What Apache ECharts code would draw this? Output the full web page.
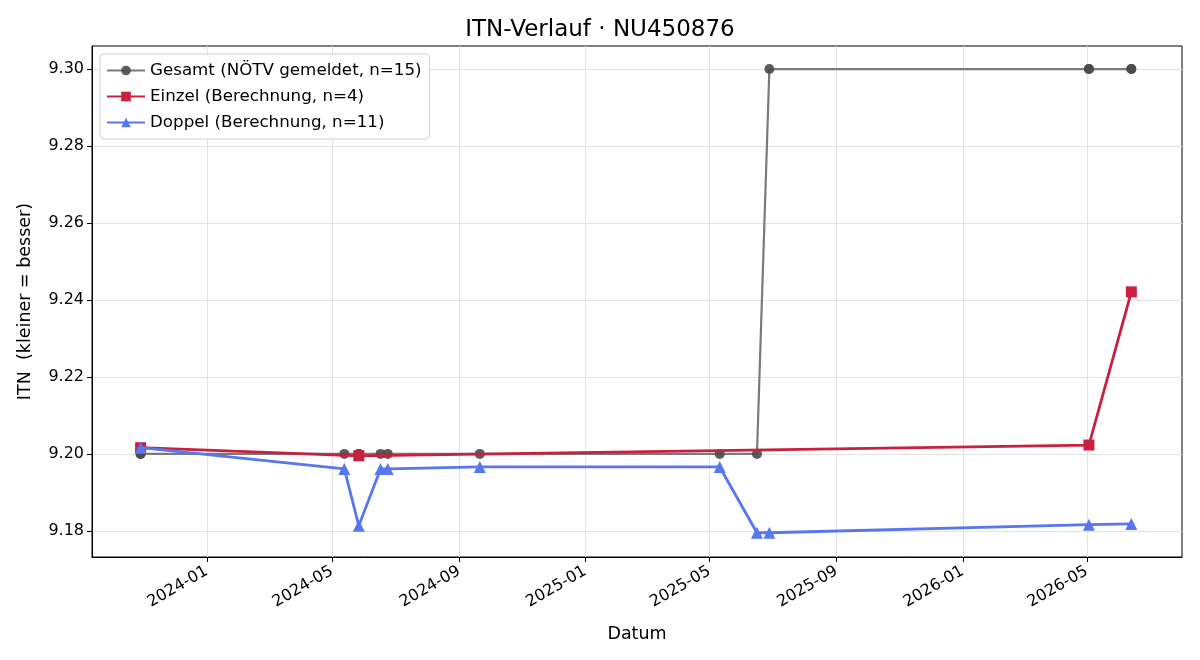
<!DOCTYPE html>
<html>
<head>
<meta charset="utf-8">
<script src="https://cdn.jsdelivr.net/npm/echarts@6/dist/echarts.min.js"></script>
<style>
  html, body { margin: 0; padding: 0; background: #fff; }
  #chart { width: 1200px; height: 660px; }
</style>
</head>
<body>
<div id="chart"></div>
<script>
// Daten
var gesamtDates = ['2023-10-29', '2023-10-29', '2024-05-13', '2024-05-27', '2024-05-27', '2024-06-17', '2024-06-24',
  '2024-09-21', '2025-05-11', '2025-06-16', '2025-06-28', '2026-05-03', '2026-05-03', '2026-06-13', '2026-06-13'];
var gesamtValues = [9.20, 9.20, 9.20, 9.20, 9.20, 9.20, 9.20, 9.20, 9.20, 9.20, 9.30, 9.30, 9.30, 9.30, 9.30];

var einzelDates = ['2023-10-29', '2024-05-27', '2026-05-03', '2026-06-13'];
var einzelValues = [9.2016, 9.1995, 9.2023, 9.2421];

var doppelDates = ['2023-10-29', '2024-05-13', '2024-05-27', '2024-06-17', '2024-06-24', '2024-09-21',
  '2025-05-11', '2025-06-16', '2025-06-28', '2026-05-03', '2026-06-13'];
var doppelValues = [9.2016, 9.1961, 9.1813, 9.1961, 9.1961, 9.1966, 9.1966, 9.1795, 9.1795, 9.1816, 9.1818];

var xTicks = ['2024-01-01', '2024-05-01', '2024-09-01', '2025-01-01', '2025-05-01', '2025-09-01', '2026-01-01', '2026-05-01'];
var yTicks = [9.18, 9.20, 9.22, 9.24, 9.26, 9.28, 9.30];

// Datum -> Zeitstempel (UTC)
function ts(s) {
  var p = s.split('-');
  return Date.UTC(+p[0], +p[1] - 1, +p[2]);
}
function pairs(dates, values) {
  return dates.map(function (d, i) { return [ts(d), values[i]]; });
}
function pad(n) { return n < 10 ? '0' + n : '' + n; }

var FONT = 'DejaVu Sans';
var chart = echarts.init(document.getElementById('chart'));

var option = {
  animation: false,
  backgroundColor: '#fff',
  textStyle: { fontFamily: FONT },
  title: {
    text: 'ITN-Verlauf · NU450876',
    left: 'center',
    top: 14,
    textStyle: { fontFamily: FONT, fontSize: 23, fontWeight: 'normal', color: '#000' }
  },
  legend: {
    orient: 'vertical',
    left: 100,
    top: 54,
    padding: [8, 8, 8, 6],
    itemGap: 9,
    itemWidth: 38,
    itemHeight: 12,
    backgroundColor: '#fff',
    borderColor: '#d0d0d0',
    borderWidth: 1,
    borderRadius: 4,
    textStyle: { fontFamily: FONT, fontSize: 16.7, color: '#000' }
  },
  grid: {
    left: 92, right: 18, top: 46, bottom: 103,
    show: true, borderColor: '#000', borderWidth: 1
  },
  xAxis: {
    type: 'value',
    min: ts('2023-09-12'),
    max: ts('2026-08-01'),
    name: 'Datum',
    nameLocation: 'middle',
    nameGap: 68,
    nameTextStyle: { fontFamily: FONT, fontSize: 17.5, color: '#000' },
    axisLine: { show: true, lineStyle: { color: '#000' } },
    axisTick: { show: true, length: 5, lineStyle: { color: '#000' }, customValues: xTicks.map(ts) },
    axisLabel: {
      customValues: xTicks.map(ts),
      rotate: 30,
      fontFamily: FONT,
      fontSize: 16,
      color: '#000',
      margin: 13,
      formatter: function (v) {
        var d = new Date(v);
        return d.getUTCFullYear() + '-' + pad(d.getUTCMonth() + 1);
      }
    },
    splitLine: { show: true, lineStyle: { color: '#e3e3e3', width: 1 } }
  },
  yAxis: {
    type: 'value',
    min: 9.1732,
    max: 9.306,
    name: 'ITN  (kleiner = besser)',
    nameLocation: 'middle',
    nameGap: 58,
    nameTextStyle: { fontFamily: FONT, fontSize: 17.5, color: '#000' },
    axisLine: { show: true, lineStyle: { color: '#000' } },
    axisTick: { show: true, length: 5, lineStyle: { color: '#000' }, customValues: yTicks },
    axisLabel: {
      customValues: yTicks,
      fontFamily: FONT,
      fontSize: 16,
      color: '#000',
      margin: 8,
      formatter: function (v) { return v.toFixed(2); }
    },
    splitLine: { show: true, lineStyle: { color: '#e3e3e3', width: 1 } }
  },
  series: [
    {
      name: 'Gesamt (NÖTV gemeldet, n=15)',
      type: 'line',
      data: pairs(gesamtDates, gesamtValues),
      symbol: 'circle',
      symbolSize: 10,
      lineStyle: { color: '#7a7a7a', width: 2.2 },
      itemStyle: { color: '#4a4a4a', opacity: 0.9 },
      z: 2
    },
    {
      name: 'Einzel (Berechnung, n=4)',
      type: 'line',
      data: pairs(einzelDates, einzelValues),
      symbol: 'rect',
      symbolSize: 11,
      lineStyle: { color: '#c8203e', width: 2.8 },
      itemStyle: { color: '#c8203e' },
      z: 3
    },
    {
      name: 'Doppel (Berechnung, n=11)',
      type: 'line',
      data: pairs(doppelDates, doppelValues),
      symbol: 'triangle',
      symbolSize: 12,
      lineStyle: { color: '#5877ef', width: 2.8 },
      itemStyle: { color: '#5877ef' },
      z: 4
    }
  ]
};

chart.setOption(option);
</script>
</body>
</html>
